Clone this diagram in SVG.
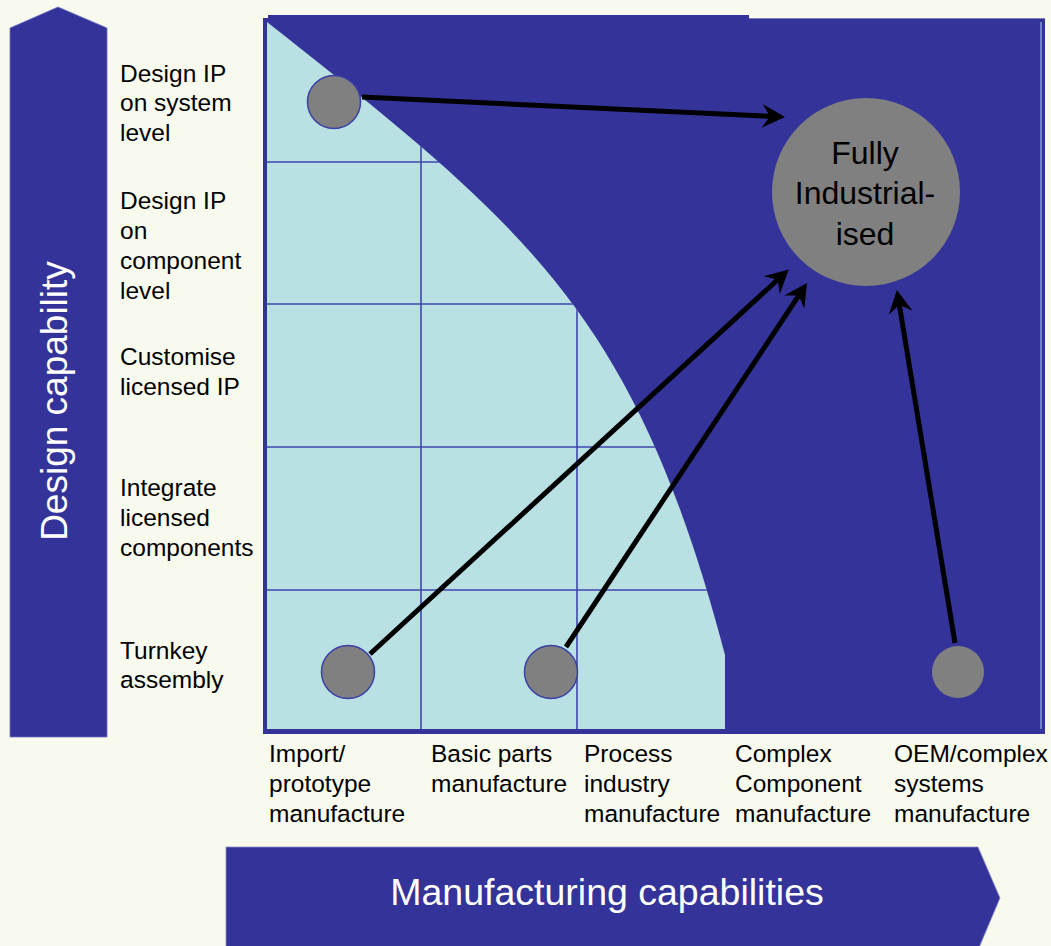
<svg xmlns="http://www.w3.org/2000/svg" width="1051" height="946" viewBox="0 0 1051 946">
<style>
.lbl{font-family:"Liberation Sans",Arial,sans-serif;font-size:24.5px;fill:#000}
.big{font-family:"Liberation Sans",Arial,sans-serif;font-size:37px;fill:#fff}
.ctr{font-family:"Liberation Sans",Arial,sans-serif;font-size:32px;fill:#000;text-anchor:middle}
.dot{fill:#808080;stroke:#3B3FA6;stroke-width:1.5}
.grid{stroke:#3F47AE;stroke-width:1.6;fill:none}
.conn{stroke:#000;stroke-width:5;fill:none;marker-end:url(#ah)}
</style>
<defs>
<marker id="ah" markerUnits="userSpaceOnUse" viewBox="-24 -13 26 26" markerWidth="26" markerHeight="26" refX="-8" refY="0" orient="auto">
<path d="M0,0 L-23,-12 L-15,0 L-23,12 Z" fill="#000"/>
</marker>
<clipPath id="lightclip">
<path d="M267,22 C527,227 635,313 725,655 L725,729 L267,729 Z"/>
</clipPath>
</defs>
<rect x="0" y="0" width="1051" height="946" fill="#F8FAEE"/>

<g id="design-axis">
<polygon points="10,28 58,7 107,28 107,737 10,737" fill="#343399" stroke="#6E72C4" stroke-width="0.8"/>
<text class="big" transform="translate(67,401) rotate(-90)" text-anchor="middle">Design capability</text>
</g>

<g id="manufacturing-axis">
<polygon points="226,847 978,847 1000,898 978,950 226,950" fill="#343399" stroke="#8A8DCC" stroke-width="0.8"/>
<text class="big" x="607" y="905" text-anchor="middle" style="font-size:37.5px">Manufacturing capabilities</text>
</g>

<g id="matrix">
<rect x="263" y="18" width="782" height="716" fill="#343399"/>
<rect x="268" y="15" width="481" height="4" fill="#343399"/>
<line x1="749" y1="18.5" x2="1045" y2="18.5" stroke="#7A7DC6" stroke-width="1"/>
<line x1="1041" y1="22" x2="1041" y2="729" stroke="#A8D8E0" stroke-width="1"/>
<path d="M267,22 C527,227 635,313 725,655 L725,729 L267,729 Z" fill="#B9E0E3"/>
<g clip-path="url(#lightclip)">
<line class="grid" x1="267" y1="162" x2="760" y2="162"/>
<line class="grid" x1="267" y1="304" x2="760" y2="304"/>
<line class="grid" x1="267" y1="447" x2="760" y2="447"/>
<line class="grid" x1="267" y1="590" x2="760" y2="590"/>
<line class="grid" x1="421" y1="22" x2="421" y2="729"/>
<line class="grid" x1="577" y1="22" x2="577" y2="729"/>
</g>
</g>

<g id="row-labels">
<text class="lbl" x="120"><tspan x="120" y="82">Design IP</tspan><tspan x="120" y="111">on system</tspan><tspan x="120" y="141">level</tspan></text>
<text class="lbl" x="120"><tspan x="120" y="209">Design IP</tspan><tspan x="120" y="239">on</tspan><tspan x="120" y="269">component</tspan><tspan x="120" y="299">level</tspan></text>
<text class="lbl" x="120"><tspan x="120" y="365">Customise</tspan><tspan x="120" y="395">licensed IP</tspan></text>
<text class="lbl" x="120"><tspan x="120" y="496">Integrate</tspan><tspan x="120" y="526">licensed</tspan><tspan x="120" y="556">components</tspan></text>
<text class="lbl" x="120"><tspan x="120" y="659">Turnkey</tspan><tspan x="120" y="688">assembly</tspan></text>
</g>

<g id="column-labels">
<text class="lbl"><tspan x="269" y="762">Import/</tspan><tspan x="269" y="792">prototype</tspan><tspan x="269" y="822">manufacture</tspan></text>
<text class="lbl"><tspan x="431" y="762">Basic parts</tspan><tspan x="431" y="792">manufacture</tspan></text>
<text class="lbl"><tspan x="584" y="762">Process</tspan><tspan x="584" y="792">industry</tspan><tspan x="584" y="822">manufacture</tspan></text>
<text class="lbl"><tspan x="735" y="762">Complex</tspan><tspan x="735" y="792">Component</tspan><tspan x="735" y="822">manufacture</tspan></text>
<text class="lbl"><tspan x="894" y="762">OEM/complex</tspan><tspan x="894" y="792">systems</tspan><tspan x="894" y="822">manufacture</tspan></text>
</g>

<g id="connectors">
<line class="conn" x1="362" y1="97" x2="777" y2="116.6"/>
<line class="conn" x1="370" y1="654" x2="782.8" y2="275"/>
<line class="conn" x1="566" y1="647" x2="802.6" y2="289.7"/>
<line class="conn" x1="955" y1="643" x2="898.2" y2="297.9"/>
</g>

<g id="node-system-level"><circle class="dot" cx="334" cy="102" r="26.5"/></g>
<g id="node-import"><circle class="dot" cx="348" cy="672" r="26.5"/></g>
<g id="node-process"><circle class="dot" cx="551" cy="672" r="26.5"/></g>
<g id="node-oem"><circle cx="958" cy="672" r="26" fill="#808080"/></g>
<g id="node-fully-industrialised">
<circle cx="866" cy="192" r="94" fill="#808080"/>
<text class="ctr"><tspan x="865" y="164">Fully</tspan><tspan x="865" y="204">Industrial-</tspan><tspan x="865" y="245">ised</tspan></text>
</g>
</svg>
